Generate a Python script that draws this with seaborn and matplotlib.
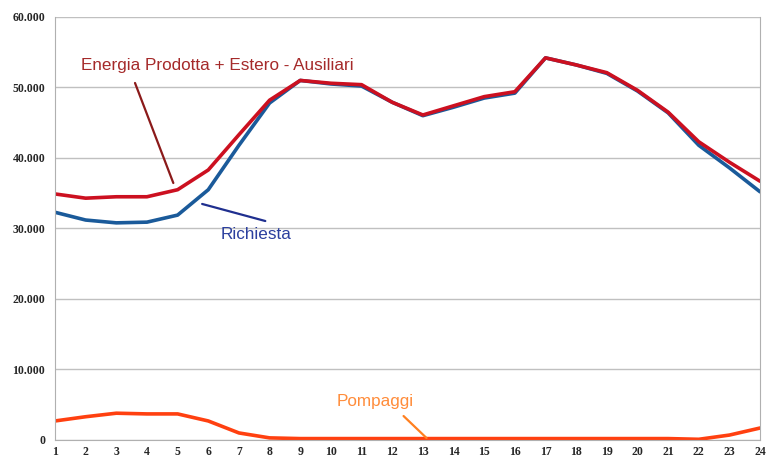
import pandas as pd
import numpy as np
import matplotlib
matplotlib.use("Agg")
import matplotlib.pyplot as plt
import seaborn as sns
from matplotlib.ticker import FuncFormatter

# ---------------------- data ---------------------- #
hours = list(range(1, 25))
energia = [34900, 34300, 34500, 34500, 35500, 38300, 43300, 48200, 51000, 50600, 50400, 47900,
           46100, 47400, 48700, 49400, 54200, 53200, 52100, 49600, 46500, 42300, 39400, 36700]
richiesta = [32300, 31200, 30800, 30900, 31900, 35500, 41800, 47800, 51000, 50500, 50200, 47900,
             46000, 47200, 48500, 49200, 54200, 53200, 52000, 49500, 46400, 41800, 38600, 35200]
pompaggi = [2700, 3300, 3800, 3700, 3700, 2700, 1000, 300, 200, 200, 200, 200,
            200, 200, 200, 200, 200, 200, 200, 200, 200, 100, 700, 1700]
series_names = ["Richiesta", "Energia Prodotta + Estero - Ausiliari", "Pompaggi"]
y_ticks = [0, 10000, 20000, 30000, 40000, 50000, 60000]

df = pd.DataFrame({
    "ora": hours * 3,
    "MW": richiesta + energia + pompaggi,
    "serie": [series_names[0]] * 24 + [series_names[1]] * 24 + [series_names[2]] * 24,
})

# ---------------------- plot ---------------------- #
sns.set_style("white")
fig = plt.figure(figsize=(7.67, 4.59), dpi=100)
ax = fig.add_axes([0.0717, 0.0414, 0.9193, 0.9216])

palette = {series_names[0]: "#1a5a9a", series_names[1]: "#cc1020", series_names[2]: "#ff4010"}
sns.lineplot(data=df, x="ora", y="MW", hue="serie", palette=palette, hue_order=series_names,
             linewidth=2.6, legend=False, ax=ax)

ax.set_xlim(1, 24)
ax.set_ylim(0, 60000)
ax.set_xticks(hours)
ax.set_yticks(y_ticks)
ax.yaxis.set_major_formatter(FuncFormatter(lambda v, p: f"{int(v):,}".replace(",", ".")))
ax.set_xlabel("")
ax.set_ylabel("")

ax.grid(axis="y", color="#c0c0c0", linewidth=1)
ax.set_axisbelow(True)
for side in ["left", "right", "bottom"]:
    ax.spines[side].set_color("#b0b0b0")
ax.spines["top"].set_visible(False)
ax.tick_params(axis="y", length=4, color="#b0b0b0", direction="out", pad=3)
ax.tick_params(axis="x", length=3, color="#b0b0b0", direction="out", pad=1)
for lab in ax.get_xticklabels() + ax.get_yticklabels():
    lab.set_fontfamily("Liberation Serif")
    lab.set_fontweight("bold")
    lab.set_fontsize(8.5)

# annotations
ax.text(6.29, 53050, "Energia Prodotta + Estero - Ausiliari", color="#a52a2a",
        fontsize=12.3, family="Liberation Sans", ha="center", va="center")
ax.plot([3.61, 4.86], [50640, 36450], color="#8b1a1a", linewidth=1.6)

ax.text(7.57, 29080, "Richiesta", color="#2b3f9e", fontsize=12.3, family="Liberation Sans",
        ha="center", va="center")
ax.plot([7.86, 5.80], [31060, 33480], color="#1f2f8f", linewidth=1.6)

ax.text(11.46, 5530, "Pompaggi", color="#ff8c3a", fontsize=12.3, family="Liberation Sans",
        ha="center", va="center")
ax.plot([12.37, 13.12], [3400, 280], color="#ff8020", linewidth=1.6)

plt.savefig("out.png", dpi=100)
plt.close()
